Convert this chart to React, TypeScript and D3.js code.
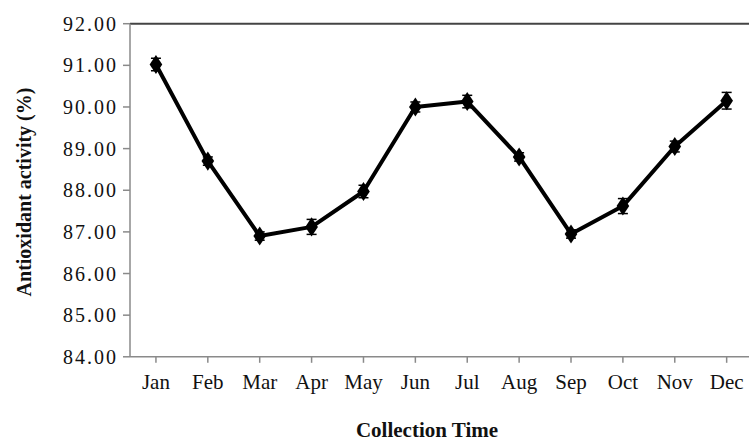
import React from "react";
import * as d3 from "d3";

const months = ["Jan", "Feb", "Mar", "Apr", "May", "Jun", "Jul", "Aug", "Sep", "Oct", "Nov", "Dec"];
const activity = [91.02, 88.7, 86.9, 87.12, 87.97, 90.0, 90.13, 88.8, 86.95, 87.62, 89.05, 90.15];
const errors = [0.15, 0.1, 0.1, 0.18, 0.15, 0.12, 0.15, 0.1, 0.1, 0.18, 0.13, 0.2];
const yTicks = [84, 85, 86, 87, 88, 89, 90, 91, 92];

const W = 749;
const H = 443;
const left = 130;
const right = 752.6;
const top = 23.7;
const bottom = 356.8;

export default function App() {
  const x = d3.scaleBand<string>().domain(months).range([left, right]);
  const y = d3.scaleLinear().domain([84, 92]).range([bottom, top]);
  const cx = (m: string) => (x(m) as number) + x.bandwidth() / 2;
  const line = d3
    .line<number>()
    .x((_, i) => cx(months[i]))
    .y((d) => y(d));
  const diamond = d3.symbol().type(d3.symbolDiamond).size(105)();
  const axisColor = "#8a8a8a";
  const font = "'Liberation Serif', 'Times New Roman', serif";
  return (
    <svg width={W} height={H} style={{ position: "absolute", left: 0, top: 0, background: "#fff" }}>
      <rect width={W} height={H} fill="#fff" />
      {/* top frame line */}
      <line x1={left} x2={W} y1={top} y2={top} stroke="#444" strokeWidth={2} />
      {/* y axis */}
      <line x1={left} x2={left} y1={top} y2={bottom} stroke={axisColor} strokeWidth={1.5} />
      {yTicks.map((t) => (
        <g key={t}>
          <line x1={left - 7} x2={left} y1={y(t)} y2={y(t)} stroke={axisColor} strokeWidth={1.5} />
          <text
            x={118}
            y={y(t)}
            dy="0.35em"
            textAnchor="end"
            fontFamily={font}
            fontSize={20}
            letterSpacing={2}
            fill="#111"
          >
            {t.toFixed(2)}
          </text>
        </g>
      ))}
      {/* x axis */}
      <line x1={left} x2={W} y1={bottom} y2={bottom} stroke={axisColor} strokeWidth={1.5} />
      {months.map((m) => (
        <g key={m}>
          <line x1={cx(m)} x2={cx(m)} y1={bottom} y2={bottom + 6} stroke={axisColor} strokeWidth={1.5} />
          <text x={cx(m)} y={389} textAnchor="middle" fontFamily={font} fontSize={21} fill="#111">
            {m}
          </text>
        </g>
      ))}
      {/* axis titles */}
      <text
        transform="translate(24,192) rotate(-90)"
        textAnchor="middle"
        dy="0.35em"
        fontFamily={font}
        fontWeight="bold"
        fontSize={20}
        fill="#111"
      >
        Antioxidant activity (%)
      </text>
      <text x={427} y={437} textAnchor="middle" fontFamily={font} fontWeight="bold" fontSize={21} fill="#111">
        Collection Time
      </text>
      {/* line */}
      <path d={line(activity) || ""} fill="none" stroke="#000" strokeWidth={4} strokeLinejoin="round" />
      {/* error bars */}
      {activity.map((v, i) => {
        const px = cx(months[i]);
        return (
          <g key={"e" + i} stroke="#000" strokeWidth={1.5}>
            <line x1={px} x2={px} y1={y(v + errors[i])} y2={y(v - errors[i])} />
            <line x1={px - 5} x2={px + 5} y1={y(v + errors[i])} y2={y(v + errors[i])} />
            <line x1={px - 5} x2={px + 5} y1={y(v - errors[i])} y2={y(v - errors[i])} />
          </g>
        );
      })}
      {/* markers */}
      {activity.map((v, i) => (
        <path key={"m" + i} d={diamond || ""} transform={`translate(${cx(months[i])},${y(v)}) scale(1.15,1)`} fill="#000" />
      ))}
    </svg>
  );
}
